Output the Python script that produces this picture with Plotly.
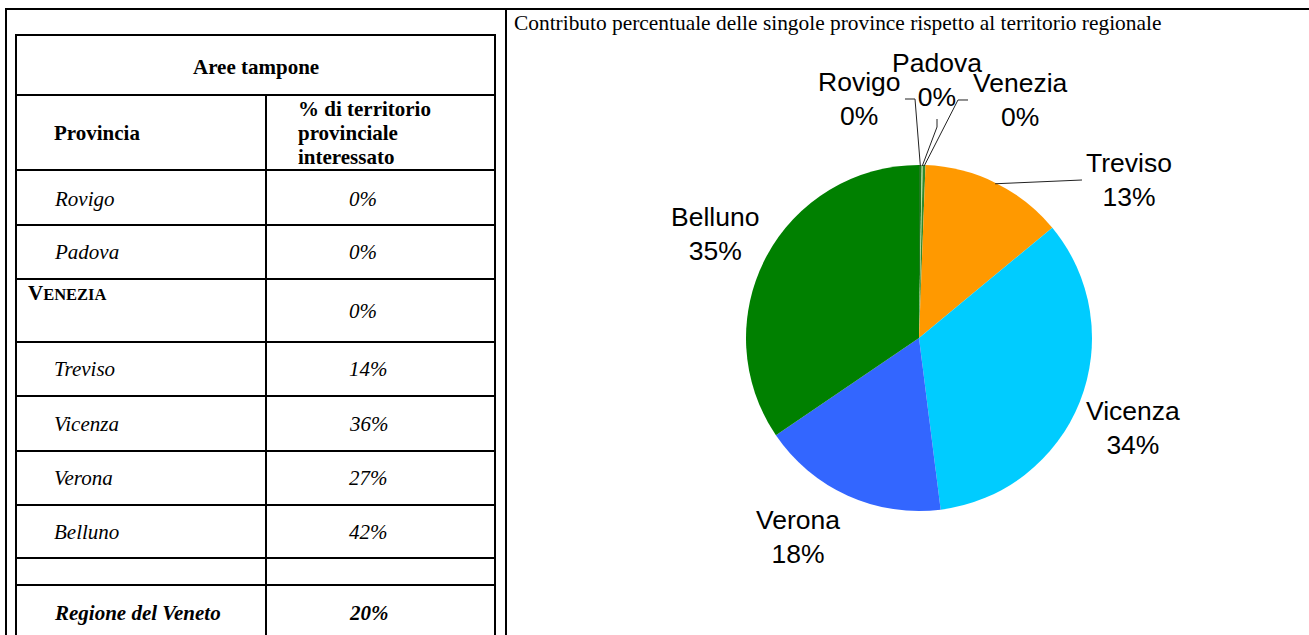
import math
import plotly.graph_objects as go

W, H = 1309, 635

# ---------------- data ----------------
provinces = ["Rovigo", "Padova", "Venezia", "Treviso", "Vicenza", "Verona", "Belluno"]
territory_pct = ["0%", "0%", "0%", "14%", "36%", "27%", "42%"]
region_label = "Regione del Veneto"
region_pct = "20%"
contrib = [0.25, 0.1, 0.25, 13.4, 34.0, 17.5, 34.5]
slice_colors = ["#1f7a1f", "#b5dd8f", "#2e8b2e", "#ff9900", "#00ccff", "#3366ff", "#008000"]

chart_title = "Contributo percentuale delle singole province rispetto al territorio regionale"
table_title = "Aree tampone"
col1_header = "Provincia"
col2_header = ["% di territorio", "provinciale", "interessato"]

# ---------------- layout helpers (pixel -> paper) ----------------
def px(x):
    return x / W

def py(y):
    return 1 - y / H

SERIF = "Liberation Serif, Times New Roman, serif"
SANS = "Liberation Sans, Arial, sans-serif"

shapes = []
annotations = []

def hline(x0, x1, y, w=2):
    shapes.append(dict(type="line", xref="paper", yref="paper",
                       x0=px(x0), x1=px(x1), y0=py(y), y1=py(y),
                       line=dict(color="black", width=w)))

def vline(x, y0, y1, w=2):
    shapes.append(dict(type="line", xref="paper", yref="paper",
                       x0=px(x), x1=px(x), y0=py(y0), y1=py(y1),
                       line=dict(color="black", width=w)))

def text(x, y, s, size=21, anchor="left", font=SERIF):
    annotations.append(dict(x=px(x), y=py(y), xref="paper", yref="paper",
                            text=s, showarrow=False, xanchor=anchor, yanchor="middle",
                            font=dict(family=font, size=size, color="black")))

# ---------------- outer frame ----------------
hline(5, W + 2, 9)
vline(6, 8, H + 2)
vline(506, 8, H + 2)

# ---------------- inner table ----------------
tx0, tx1, tcol = 16, 495, 266
row_lines = [35, 95, 170, 225, 279, 342, 396, 451, 505, 558, 585]
for y in row_lines:
    hline(tx0 - 1, tx1 + 1, y)
vline(tx0, 34, H + 2)
vline(tx1, 34, H + 2)
vline(tcol, 95, H + 2)

text((tx0 + tx1) / 2, 67, "<b>%s</b>" % table_title, anchor="center")
text(52, 133, "<b>%s</b>" % col1_header)
for s, y in zip(col2_header, [109, 133, 157]):
    text(296, y, "<b>%s</b>" % s)

name_y = [199, 252, 293, 369, 424, 478, 532]
val_y = [199, 252, 311, 369, 424, 478, 532]
for name, val, ny, vy in zip(provinces, territory_pct, name_y, val_y):
    if name == "Venezia":
        up = name.upper()
        text(26, ny, "<b>%s<span style='font-size:16.5px'>%s</span></b>" % (up[0], up[1:]))
    else:
        text(52, ny, "<i>%s</i>" % name)
    text(347, vy, "<i>%s</i>" % val)

text(52, 613, "<b><i>%s</i></b>" % region_label)
text(347, 613, "<b><i>%s</i></b>" % region_pct)

# ---------------- chart title ----------------
text(512, 23, chart_title, size=21.4)

# ---------------- pie ----------------
cx, cy, r = 919, 338, 173
total = sum(contrib)
pct_labels = ["%d%%" % int(math.floor(v / total * 100 + 0.5 + 1e-9)) for v in contrib]

label_pos = {
    "Rovigo": (859, 99),
    "Padova": (937, 80),
    "Venezia": (1020, 100),
    "Treviso": (1129, 180),
    "Vicenza": (1133, 428),
    "Verona": (798, 537),
    "Belluno": (715, 234),
}
leader_pts = {
    "Rovigo": [(915, 99), (905, 99)],
    "Padova": [(937, 127), (937, 119)],
    "Venezia": [(958, 100), (968, 100)],
    "Treviso": [(1082, 180)],
}

cum = 0.0
for name, v, lab in zip(provinces, contrib, pct_labels):
    mid = (cum + v / 2) / total
    cum += v
    th = 2 * math.pi * mid
    ex, ey = cx + (r - 1) * math.sin(th), cy - (r - 1) * math.cos(th)
    lx, ly = label_pos[name]
    text(lx, ly, "%s<br>%s" % (name, lab), size=26.5, anchor="center", font=SANS)
    if name in leader_pts:
        pts = [(ex, ey)] + leader_pts[name]
        path = "M %f %f " % (px(pts[0][0]), py(pts[0][1])) + " ".join(
            "L %f %f" % (px(a), py(b)) for a, b in pts[1:])
        shapes.append(dict(type="path", xref="paper", yref="paper", path=path,
                           line=dict(color="#222222", width=1)))

fig = go.Figure(go.Pie(
    labels=provinces, values=contrib, sort=False, direction="clockwise", rotation=0,
    textinfo="none", hoverinfo="label+percent",
    marker=dict(colors=slice_colors, line=dict(width=0)),
    domain=dict(x=[px(cx - r), px(cx + r)], y=[py(cy + r), py(cy - r)]),
    showlegend=False,
))

fig.update_layout(
    width=W, height=H,
    margin=dict(l=0, r=0, t=0, b=0),
    paper_bgcolor="white", plot_bgcolor="white",
    shapes=shapes, annotations=annotations,
    showlegend=False,
)

fig.write_html(
    "out.html",
    config={"displayModeBar": False},
    post_script="document.body.style.margin='0';document.body.style.overflow='hidden';",
)
